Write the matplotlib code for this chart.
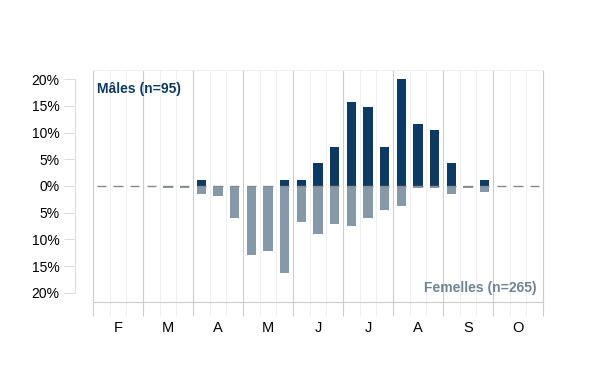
import matplotlib.pyplot as plt
import numpy as np

plt.rcParams['font.family'] = ['Liberation Sans', 'DejaVu Sans']

# three decades per month
months = ['F', 'M', 'A', 'M', 'J', 'J', 'A', 'S', 'O']
n_males = 95
n_females = 265
males = [0, 0, 0,  0, 0, 0,  1, 0, 0,  0, 0, 1,  1, 4, 7,
         15, 14, 7,  19, 11, 10,  4, 0, 1,  0, 0, 0]
females = [0, 0, 0,  0, 1, 1,  4, 5, 16,  34, 32, 43,  18, 24, 19,
           20, 16, 12,  10, 1, 1,  4, 1, 3,  0, 0, 0]

male_pct = np.array(males) / n_males * 100
female_pct = np.array(females) / n_females * 100
x = np.arange(len(males))

c_male = '#0d3a63'
c_female = '#8599a8'

fig = plt.figure(figsize=(6, 3.9), dpi=100)
ax = fig.add_axes([0.155, 0.2256, 0.75, 0.595])

w = 0.55
ax.bar(x, -female_pct, width=w, color=c_female, zorder=3)
ax.bar(x, male_pct, width=w, color=c_male, zorder=3)
# little dash at zero for every decade
ax.hlines(np.zeros(len(x)), x - w / 2, x + w / 2, color='#8a8a8a', lw=1, zorder=4)

ax.set_xlim(-0.5, len(males) - 0.5)
ax.set_ylim(-21.7, 21.7)

major = np.arange(-0.5, len(males), 3)
ax.set_xticks(major)
ax.set_xticks(np.arange(-0.5, len(males), 1), minor=True)
ax.set_xticklabels([])
ax.tick_params(axis='x', which='major', length=10, color='#cccccc', width=0.8)
ax.tick_params(axis='x', which='minor', length=10, color='#f0f0f0', width=0.8)
for i, m in enumerate(months):
    ax.text(3 * i + 1, -0.11, m, transform=ax.get_xaxis_transform(),
            ha='center', va='center', fontsize=10.5)

ax.grid(axis='x', which='major', color='#cccccc', lw=0.8, zorder=0)
ax.grid(axis='x', which='minor', color='#efefef', lw=0.8, zorder=0)

yt = np.arange(-20, 21, 5)
ax.set_yticks(yt)
ax.set_yticklabels([f'{abs(v)}%' for v in yt], fontsize=10.5)
ax.tick_params(axis='y', length=8, color='#dddddd', width=0.8, pad=3)

ax.spines['left'].set_position(('outward', 13))
ax.spines['left'].set_bounds(-20, 20)
ax.spines['left'].set_color('#dddddd')
ax.spines['bottom'].set_color('#cccccc')
ax.spines['top'].set_color('#f0f0f0')
ax.spines['right'].set_color('#cccccc')
ax.spines['right'].set_linewidth(0.8)

ax.text(0.008, 0.92, f'Mâles (n={n_males})', transform=ax.transAxes,
        color=c_male, fontsize=10, fontweight='bold', ha='left', va='center')
ax.text(0.985, 0.06, f'Femelles (n={n_females})', transform=ax.transAxes,
        color='#6f8496', fontsize=10, fontweight='bold', ha='right', va='center')

fig.savefig('out.png', dpi=100)
